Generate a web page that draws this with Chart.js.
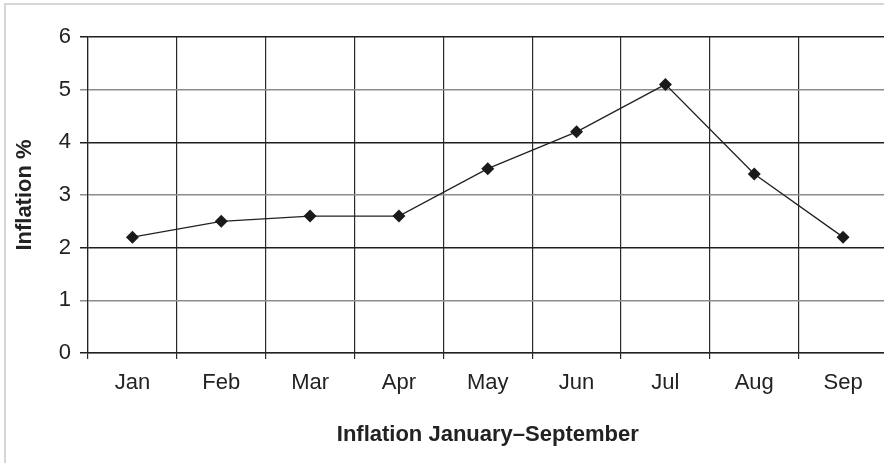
<html>
<head>
<meta charset="utf-8">
<title>Inflation January–September</title>
<script src="https://cdn.jsdelivr.net/npm/chart.js@4/dist/chart.umd.min.js"></script>
<style>
	body{margin:0;background:#fff;overflow:hidden;}
	.frame{position:absolute;left:4px;top:3px;width:888px;height:470px;border:2px solid #d6d6d6;background:#fff;}
</style>
</head>
<body>
<div class="frame">
	<canvas id="ctx" width="888" height="470"></canvas>
</div>
<script>
// data
var months = ['Jan','Feb','Mar','Apr','May','Jun','Jul','Aug','Sep'];
var inflation = [2.2, 2.5, 2.6, 2.6, 3.5, 4.2, 5.1, 3.4, 2.2];
var yTicks = [0, 1, 2, 3, 4, 5, 6];

Chart.defaults.font.family = '"Liberation Sans", Arial, sans-serif';
Chart.defaults.color = '#222';

var ctx = document.getElementById('ctx');
var myChart = new Chart(ctx, {
	type: 'line',
	data: {
		labels: months,
		datasets: [{
			data: inflation,
			borderColor: '#222',
			borderWidth: 1.3,
			pointStyle: 'rectRot',
			pointRadius: 6.5,
			pointBackgroundColor: '#1a1a1a',
			pointBorderColor: '#1a1a1a',
			pointBorderWidth: 0,
			tension: 0
		}]
	},
	options: {
		responsive: false,
		animation: false,
		events: [],
		layout: {padding: {top: 32, left: 0, right: 0, bottom: 22}},
		plugins: {
			legend: {display: false},
			tooltip: {enabled: false}
		},
		scales: {
			x: {
				offset: true,
				grid: {offset: true, color: '#2a2a2a', lineWidth: 1.2, tickLength: 6, tickColor: '#2a2a2a'},
				border: {color: '#222', width: 1.2},
				ticks: {font: {size: 22}, padding: 11, color: '#222'},
				title: {
					display: true,
					text: 'Inflation January–September',
					color: '#222',
					font: {size: 22, weight: 'bold'},
					padding: {top: 0, bottom: 5}
				},
				afterFit: function(s){ s.height = 100; }
			},
			y: {
				min: yTicks[0],
				max: yTicks[yTicks.length-1],
				afterBuildTicks: function(s){ s.ticks = yTicks.map(function(v){ return {value: v}; }); },
				grid: {
					color: function(c){ return c.tick && c.tick.value % 2 == 0 ? '#1f1f1f' : '#8c8c8c'; },
					lineWidth: 1.5,
					tickLength: 8
				},
				border: {color: '#222', width: 1.2},
				ticks: {font: {size: 22}, padding: 9, color: '#222'},
				title: {
					display: true,
					text: 'Inflation %',
					color: '#222',
					font: {size: 22, weight: 'bold'},
					padding: {top: 6, bottom: 0}
				},
				afterFit: function(s){ s.width = 82; }
			}
		}
	}
});
</script>
</body>
</html>
